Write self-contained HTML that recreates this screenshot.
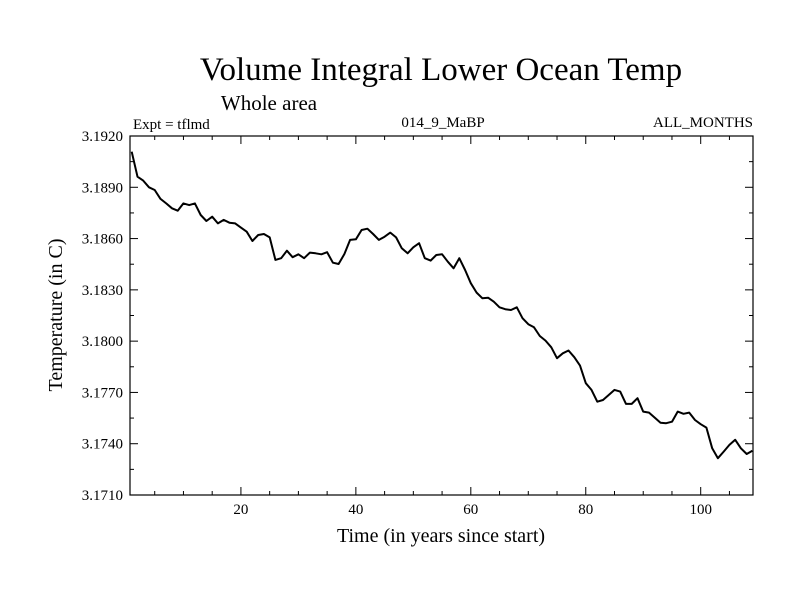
<!DOCTYPE html>
<html><head><meta charset="utf-8"><style>
html,body{margin:0;padding:0;background:#fff;}
svg{display:block;font-family:"Liberation Serif",serif;}
</style></head><body>
<svg id="chart" width="800" height="600">
<text x="441" y="80" font-size="33" text-anchor="middle">Volume Integral Lower Ocean Temp</text>
<text x="269" y="110" font-size="21" text-anchor="middle">Whole area</text>
<text x="133" y="129" font-size="15">Expt = tflmd</text>
<text x="443" y="127" font-size="15" text-anchor="middle">014_9_MaBP</text>
<text x="753" y="127" font-size="15" text-anchor="end">ALL_MONTHS</text>
<text x="441" y="542" font-size="20" text-anchor="middle">Time (in years since start)</text>
<text transform="translate(62,315) rotate(-90)" font-size="20" text-anchor="middle">Temperature (in C)</text>
<g id="axes"></g>
<g id="plot"></g>
</svg>
<script>
const yTickLabels = ["3.1710","3.1740","3.1770","3.1800","3.1830","3.1860","3.1890","3.1920"];
const xTickLabels = ["20","40","60","80","100"];
const temps = [3.19108,3.18962,3.18939,3.18900,3.18884,3.18832,3.18806,3.18777,3.18763,3.18806,3.18796,3.18806,3.18738,3.18703,3.18728,3.18689,3.18709,3.18693,3.18689,3.18664,3.18640,3.18586,3.18621,3.18627,3.18607,3.18475,3.18485,3.18529,3.18491,3.18508,3.18485,3.18518,3.18514,3.18508,3.18520,3.18459,3.18451,3.18510,3.18592,3.18596,3.18650,3.18658,3.18627,3.18592,3.18611,3.18635,3.18607,3.18543,3.18514,3.18549,3.18573,3.18485,3.18471,3.18504,3.18508,3.18465,
3.18426,3.18485,3.18416,3.18339,3.18284,3.18251,3.18254,3.18231,3.18198,3.18187,3.18182,3.18198,3.18134,3.18099,3.18081,3.18030,3.18003,3.17964,3.17900,3.17929,3.17945,3.17906,3.17857,3.17754,3.17715,3.17646,3.17656,3.17685,3.17715,3.17705,3.17633,3.17633,3.17666,3.17588,3.17582,3.17553,3.17523,3.17520,3.17529,3.17588,3.17575,3.17582,3.17539,3.17514,3.17494,3.17373,3.17315,3.17354,3.17393,3.17423,3.17373,3.17340,3.17359];
const years = temps.map((_, i) => i + 1);

const NS = "http://www.w3.org/2000/svg";
const L = 130, R = 753, T = 136, B = 495;
const xMin = 0.7, xMax = 109.1, yMin = 3.1710, yMax = 3.1920;
const xs = v => L + (v - xMin) / (xMax - xMin) * (R - L);
const ys = v => B - (v - yMin) / (yMax - yMin) * (B - T);
const axes = document.getElementById('axes');
const plot = document.getElementById('plot');
function mk(tag, attrs, parent) {
  const e = document.createElementNS(NS, tag);
  for (const k in attrs) e.setAttribute(k, attrs[k]);
  parent.appendChild(e);
  return e;
}
const frame = mk('rect', {x: L, y: T, width: R - L, height: B - T, fill: 'none', stroke: '#000', 'stroke-width': 1.2}, axes);


for (let i = 0; i <= 14; i++) {
  const v = yMin + i * 0.0015;
  const y = ys(v);
  const len = i % 2 === 0 ? 8 : 4;
  const t1 = mk('line', {x1: L, x2: L + len, y1: y, y2: y, stroke: '#000', 'stroke-width': 1}, axes);
  
  
  const t2 = mk('line', {x1: R, x2: R - len, y1: y, y2: y, stroke: '#000', 'stroke-width': 1}, axes);
  
  
}
yTickLabels.forEach(s => {
  const t = mk('text', {x: L - 7, y: ys(parseFloat(s)) + 5, 'font-size': 15, 'text-anchor': 'end'}, axes);
  t.textContent = s;
  
  
});
for (let v = 5; v < xMax; v += 5) {
  const x = xs(v);
  const len = v % 20 === 0 ? 8 : 4;
  const t1 = mk('line', {x1: x, x2: x, y1: B, y2: B - len, stroke: '#000', 'stroke-width': 1}, axes);
  
  
  const t2 = mk('line', {x1: x, x2: x, y1: T, y2: T + len, stroke: '#000', 'stroke-width': 1}, axes);
  
  
}
xTickLabels.forEach(s => {
  const t = mk('text', {x: xs(parseFloat(s)), y: 514, 'font-size': 15, 'text-anchor': 'middle'}, axes);
  t.textContent = s;
  
  
});
const pts = years.map((yr, i) => xs(yr).toFixed(1) + ',' + ys(temps[i]).toFixed(1)).join(' ');
const line = mk('polyline', {points: pts, fill: 'none', stroke: '#000', 'stroke-width': 2, 'stroke-linejoin': 'round'}, plot);


</script>
</body></html>
